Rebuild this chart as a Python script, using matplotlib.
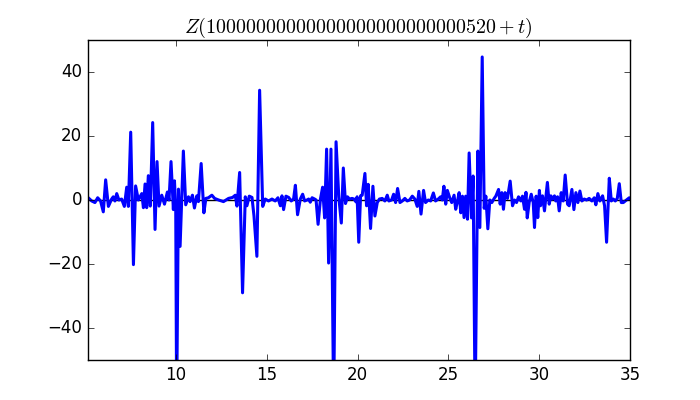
import matplotlib
matplotlib.use('Agg')
import matplotlib.pyplot as pp
import numpy as np


# Values (t, Z)
t_vals = [
    5.16, 5.35, 5.53, 5.68, 5.84, 5.99, 6.12, 6.27, 6.45, 6.54,
    6.63, 6.73, 6.85, 7.00, 7.15, 7.28, 7.37, 7.50, 7.65, 7.77,
    7.92, 8.11, 8.20, 8.29, 8.38, 8.47, 8.58, 8.71, 8.84, 8.95,
    9.06, 9.21, 9.36, 9.52, 9.61, 9.72, 9.85, 9.91, 9.98, 10.03,
    10.13, 10.22, 10.40, 10.53, 10.68, 10.77, 10.90, 11.01, 11.14, 11.23,
    11.38, 11.53, 11.64, 11.78, 11.97, 12.12, 12.34, 12.61, 12.89, 13.11,
    13.26, 13.35, 13.50, 13.66, 13.81, 13.90, 14.03, 14.18, 14.29, 14.45,
    14.60, 14.77, 14.91, 15.09, 15.28, 15.46, 15.61, 15.74, 15.83, 15.92,
    16.05, 16.20, 16.34, 16.47, 16.57, 16.69, 16.84, 16.97, 17.08, 17.21,
    17.30, 17.39, 17.49, 17.63, 17.71, 17.82, 17.95, 18.07, 18.18, 18.29,
    18.40, 18.53, 18.68, 18.81, 18.96, 19.10, 19.21, 19.33, 19.44, 19.55,
    19.69, 19.80, 19.91, 19.97, 20.06, 20.16, 20.25, 20.40, 20.49, 20.58,
    20.71, 20.84, 20.95, 21.08, 21.20, 21.35, 21.50, 21.63, 21.72, 21.87,
    21.98, 22.09, 22.20, 22.33, 22.46, 22.60, 22.73, 22.86, 23.01, 23.15,
    23.28, 23.37, 23.49, 23.63, 23.74, 23.89, 24.02, 24.17, 24.29, 24.44,
    24.57, 24.66, 24.75, 24.85, 24.94, 25.07, 25.18, 25.31, 25.40, 25.49,
    25.59, 25.68, 25.77, 25.86, 25.95, 26.05, 26.14, 26.27, 26.36, 26.47,
    26.62, 26.73, 26.86, 26.97, 27.06, 27.17, 27.28, 27.39, 27.52, 27.61,
    27.76, 27.85, 27.94, 28.03, 28.12, 28.25, 28.40, 28.53, 28.64, 28.75,
    28.86, 28.99, 29.08, 29.19, 29.27, 29.34, 29.45, 29.56, 29.67, 29.74,
    29.83, 29.92, 30.01, 30.07, 30.18, 30.29, 30.45, 30.55, 30.64, 30.73,
    30.84, 30.91, 31.01, 31.10, 31.21, 31.32, 31.43, 31.56, 31.65, 31.80,
    31.91, 32.02, 32.13, 32.24, 32.35, 32.48, 32.61, 32.75, 32.90, 33.03,
    33.12, 33.23, 33.34, 33.49, 33.60, 33.71, 33.86, 33.97, 34.08, 34.19,
    34.30, 34.41, 34.52, 34.63, 34.74, 34.87, 34.96, 35.03,
]
z_vals = [
    0.7, -0.3, -0.8, 0.7, -0.3, -3.7, 6.3, -2.0, 0.3, 1.0,
    -0.3, 2.0, 0.0, 0.3, -2.0, 4.0, -2.0, 21.2, -20.2, 4.4,
    0.0, 2.0, -2.4, 5.0, -2.4, 7.6, -1.9, 24.2, -9.2, 12.0,
    -1.9, 1.5, -1.3, 2.5, 0.0, 12.0, -3.0, 6.0, -3.0, -65.0,
    3.4, -14.5, 15.3, -1.5, 1.0, -0.5, 1.5, -2.5, 1.3, -0.5,
    11.4, -4.0, 0.5, 0.7, 1.5, 0.5, 0.0, -0.5, 0.5, 0.8,
    1.5, -1.9, 8.6, -29.0, 1.0, -1.8, 1.2, 0.8, -5.0, -17.6,
    34.3, -2.0, 0.3, -0.3, 0.3, -0.3, 0.7, -1.8, 1.3, -3.0,
    1.2, 0.8, -0.3, 0.3, 4.6, -4.6, 0.3, 1.8, -0.3, 0.0,
    0.3, -0.7, 0.7, 0.3, 0.0, -7.6, 0.3, 4.0, -5.6, 15.9,
    -19.7, 15.9, -65.0, 18.2, 1.0, -7.2, 10.0, -1.1, 1.0, 0.3,
    0.5, 0.3, -0.6, 1.0, -13.2, 1.3, 1.5, 8.3, -1.8, 4.9,
    -8.9, 4.3, -5.0, -0.8, 0.3, 0.5, -0.3, 1.5, -0.3, 0.0,
    1.8, -0.8, 3.6, -0.8, -0.3, 0.5, -0.3, 0.0, 1.2, 0.3,
    -2.0, 2.7, -4.4, 3.0, -0.8, 0.0, -0.3, 2.2, -0.3, 0.3,
    1.0, 0.0, 4.3, -1.3, 3.0, 0.7, -0.8, 1.5, -2.9, -0.6,
    2.3, -4.0, 1.2, -5.5, 1.2, -6.0, 14.7, -5.6, 7.5, -65.0,
    15.3, -8.6, 44.7, -2.6, 1.2, -9.0, 0.0, -0.8, 0.5, 1.2,
    3.3, -1.3, 2.3, -2.9, 2.3, 0.5, 5.9, -1.8, 0.0, -0.8,
    1.0, -0.3, 1.2, -2.9, 2.4, -5.6, -0.6, 1.8, -0.8, -8.6,
    1.2, -5.5, 3.0, -1.8, 1.3, -3.4, 5.5, -1.3, 1.3, 0.3,
    1.3, -0.3, 1.0, -3.4, 2.3, -0.3, 7.8, -1.3, -1.8, 3.3,
    -3.0, 2.3, -0.8, 2.8, -0.3, 0.3, 0.0, 0.5, -0.3, 0.7,
    -1.5, 2.0, -0.3, 1.3, -1.8, -13.2, 6.8, -0.3, 0.3, -0.3,
    0.5, 5.1, -0.8, -0.8, -0.3, 0.3, 0.7, 0.3,
]

title_text = r'$Z(10000000000000000000000000520+t)$'


def make_plot():
    pp.style.use('classic')

    fig = pp.figure(figsize=(7, 4), dpi=100, facecolor='white')
    ax = fig.add_subplot(111)
    fig.subplots_adjust(left=0.125, right=0.9, bottom=0.1, top=0.9)

    ax.axhline(0, color='k', lw=1, zorder=1)
    ax.plot(t_vals, z_vals, color='b', lw=2.2, zorder=2)

    ax.set_title(title_text)
    ax.set_xlim(5.12, 35)
    ax.set_ylim(-50, 50)
    ax.set_xticks([10, 15, 20, 25, 30, 35])
    ax.set_yticks([-40, -20, 0, 20, 40])

    fig.savefig('out.png', dpi=100, facecolor='white')


if __name__ == '__main__':
    make_plot()
